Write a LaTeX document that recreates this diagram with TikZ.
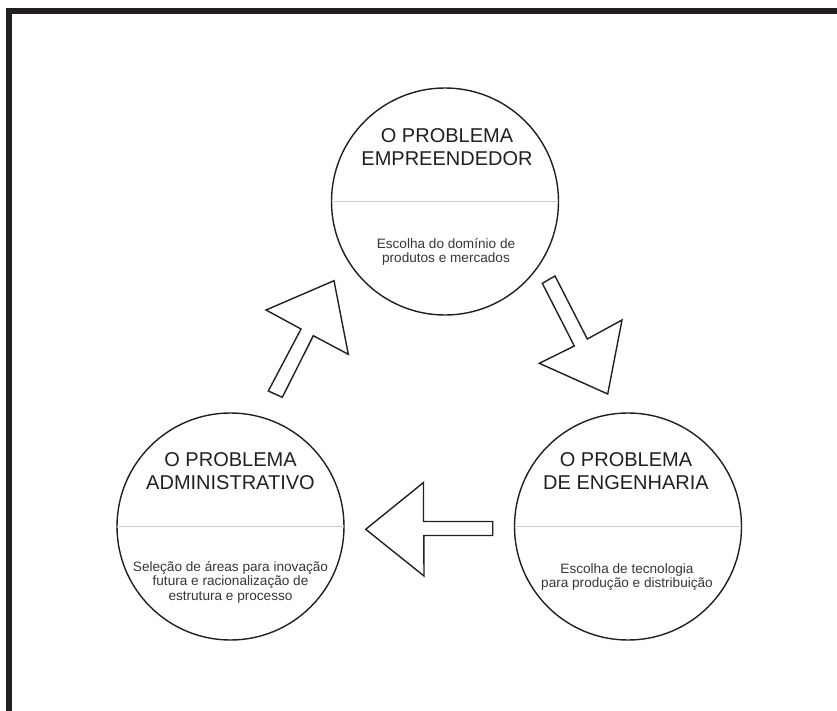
\documentclass[tikz,border=0pt]{standalone}
\usepackage{fontspec}
\setmainfont{Liberation Sans}
\definecolor{ink}{HTML}{231F20}
\definecolor{rule}{HTML}{CCCCCC}
\begin{document}
\begin{tikzpicture}[x=1pt,y=-1pt,
  bubble/.style={circle,draw=ink,line width=1.4pt,minimum size=227pt,inner sep=0pt},
  divider/.style={draw=rule,line width=1.4pt,shorten >=0.8pt,shorten <=0.8pt},
  title/.style={anchor=base,font=\fontsize{20}{24}\selectfont,text=ink,inner sep=0pt},
  sub/.style={anchor=base,font=\fontsize{13.6}{16}\selectfont,text=ink!90,inner sep=0pt},
  blockarrow/.style={draw=ink,line width=1.4pt,line join=miter,fill=white}]
\useasboundingbox (0,0) rectangle (837,711);
% frame
\fill[ink] (6,8) rectangle (837,14);
\fill[ink] (6,8) rectangle (12,711);
% circles
\node[bubble] (top) at (445,201.5) {};
\node[bubble] (adm) at (230.5,526.5) {};
\node[bubble] (eng) at (628,526.5) {};
\draw[divider] (top.west) -- (top.east);
\draw[divider] (adm.west) -- (adm.east);
\draw[divider] (eng.west) -- (eng.east);
% top texts
\node[title] (t1) at (447,142.7) {O PROBLEMA};
\node[title] (t2) at (447,166) {EMPREENDEDOR};
\node[sub] (t3) at (446,248) {Escolha do domínio de};
\node[sub] (t4) at (446,262) {produtos e mercados};
% left texts
\node[title] (a1) at (230.5,466.7) {O PROBLEMA};
\node[title] (a2) at (230.5,489) {ADMINISTRATIVO};
\node[sub] (a3) at (230.5,571.7) {Seleção de áreas para inovação};
\node[sub] (a4) at (230.5,585.7) {futura e racionalização de};
\node[sub] (a5) at (230.5,600) {estrutura e processo};
% right texts
\node[title] (e1) at (626,466.7) {O PROBLEMA};
\node[title] (e2) at (626,489) {DE ENGENHARIA};
\node[sub] (e3) at (627,573.3) {Escolha de tecnologia};
\node[sub] (e4) at (627,587.7) {para produção e distribuição};
% block arrows
\draw[blockarrow] (268.3,391) -- (301,329) -- (266,310) -- (334,280.7)
  -- (348.3,354.3) -- (313.3,335.7) -- (282.3,397.3) -- cycle;
\draw[blockarrow] (542.3,283.3) -- (555,276) -- (587.3,339) -- (622,320)
  -- (607.7,394) -- (539.3,363.3) -- (574.3,346) -- cycle;
\draw[blockarrow] (365.7,529.3) -- (423.5,482.5) -- (423.5,521.5) -- (492.7,521.5)
  -- (492.7,535.5) -- (423.8,535.5) -- (424,576) -- cycle;
\end{tikzpicture}
\end{document}
